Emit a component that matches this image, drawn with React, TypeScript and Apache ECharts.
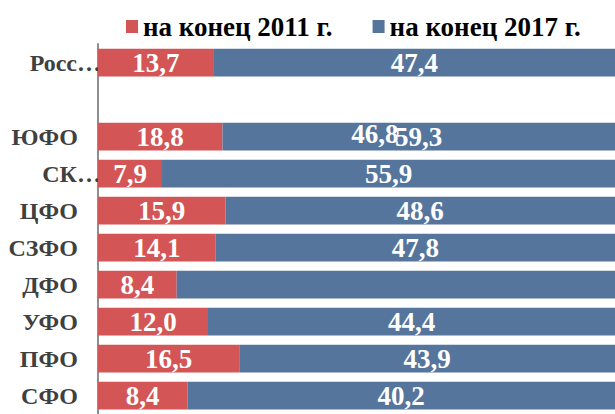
import React, { useEffect, useRef } from "react";
import * as echarts from "echarts";

const categories = ["Росс…", "", "ЮФО", "СК…", "ЦФО", "СЗФО", "ДФО", "УФО", "ПФО", "СФО"];
const values2011: (number | null)[] = [13.7, null, 18.8, 7.9, 15.9, 14.1, 8.4, 12.0, 16.5, 8.4];
const values2017: (number | null)[] = [47.4, null, 59.3, 55.9, 48.6, 47.8, 46.8, 44.4, 43.9, 40.2];
const seriesNames = ["на конец 2011 г.", "на конец 2017 г."];

const FONT = "Liberation Serif";
const RED = "#D35555";
const BLUE = "#56759C";

const fmt = (v: number) => v.toFixed(1).replace(".", ",");

export default function App() {
  const ref = useRef<HTMLDivElement>(null);
  useEffect(() => {
    if (!ref.current) return;
    const chart = echarts.init(ref.current, undefined, { renderer: "svg" });
    const share = (arr: (number | null)[]) =>
      arr.map((v, i) => {
        const a = values2011[i];
        const b = values2017[i];
        if (v == null || a == null || b == null) return null;
        return { value: (v / (a + b)) * 100, raw: v };
      });
    const redData = share(values2011);
    const blueData = share(values2017).map((d, i) => {
      if (d == null) return null;
      const item: any = { value: d.value, raw: d.raw };
      // label of ДФО displaced into the ЮФО row, as in the original
      if (categories[i] === "ДФО") item.label = { offset: [-21, -151] };
      return item;
    });
    const labelStyle = {
      show: true,
      position: "inside",
      color: "#ffffff",
      fontFamily: FONT,
      fontWeight: "bold",
      fontSize: 27,
      formatter: (p: any) => fmt(p.data.raw),
    };
    chart.setOption({
      animation: false,
      backgroundColor: "#ffffff",
      textStyle: { fontFamily: FONT },
      legend: {
        left: 121,
        top: 8,
        itemWidth: 12,
        itemHeight: 13,
        itemGap: 40,
        icon: "rect",
        textStyle: {
          fontFamily: FONT,
          fontWeight: "bold",
          fontSize: 27,
          color: "#000000",
        },
        data: seriesNames,
      },
      grid: { left: 98, top: 44, width: 519.6, height: 377, containLabel: false },
      xAxis: { type: "value", min: 0, max: 100, show: false },
      yAxis: {
        type: "category",
        inverse: true,
        data: categories,
        axisTick: { show: false },
        axisLine: { show: true, lineStyle: { color: "#8f8f8f", width: 2 } },
        axisLabel: {
          margin: -3,
          formatter: (v: string) => (v.endsWith("…") ? `{b|${v}}` : `{b|${v}}{sp| }`),
          rich: {
            b: { fontFamily: FONT, fontWeight: "bold", fontSize: 24, color: "#404040" },
            sp: { width: 23, fontSize: 24 },
          },
        },
      },
      series: [
        {
          name: seriesNames[0],
          type: "bar",
          stack: "total",
          barWidth: "75%",
          itemStyle: { color: RED },
          label: labelStyle,
          data: redData,
        },
        {
          name: seriesNames[1],
          type: "bar",
          stack: "total",
          barWidth: "75%",
          itemStyle: { color: BLUE },
          label: labelStyle,
          data: blueData,
        },
      ],
    });
    return () => chart.dispose();
  }, []);
  return (
    <div
      ref={ref}
      style={{ position: "fixed", left: 0, top: 0, width: 615, height: 414 }}
    />
  );
}
